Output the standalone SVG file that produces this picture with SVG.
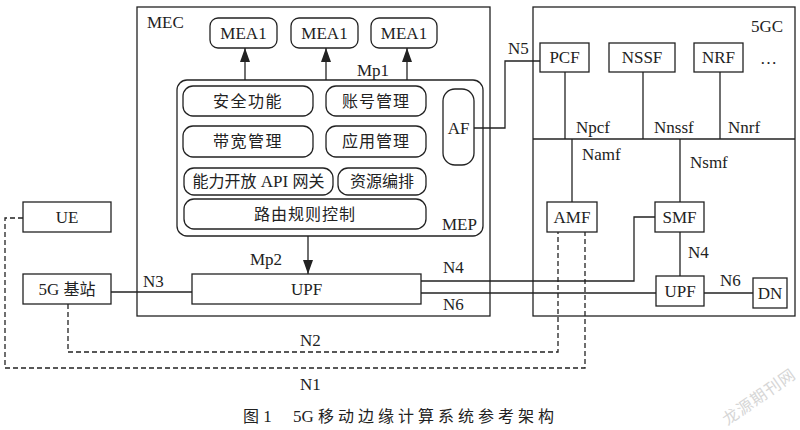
<svg xmlns="http://www.w3.org/2000/svg" width="800" height="430" viewBox="0 0 800 430">
<style>
  .box{fill:#fff;stroke:#222;stroke-width:1.3}
  .frame{fill:none;stroke:#222;stroke-width:1.3}
  .ln{fill:none;stroke:#222;stroke-width:1.3}
  .dash{fill:none;stroke:#222;stroke-width:1.3;stroke-dasharray:5 3}
  text{font-family:"Liberation Serif","Noto Sans CJK SC",serif;font-size:17px;fill:#222}
  .c{text-anchor:middle}
  .cjk{font-family:"Noto Sans CJK SC","Liberation Serif",sans-serif;font-size:16px}
</style>
<defs>
  <marker id="arr" markerUnits="userSpaceOnUse" markerWidth="14" markerHeight="10" refX="14" refY="5" orient="auto">
    <path d="M0,0 L14,5 L0,10 z" fill="#222"/>
  </marker>
</defs>
<rect width="800" height="430" fill="#fff"/>

<g id="mec">
  <rect class="frame" x="137" y="7" width="353" height="309"/>
  <text x="147" y="28">MEC</text>
</g>
<g id="gc5">
  <rect class="frame" x="533" y="7" width="262" height="309"/>
  <text x="751" y="32">5GC</text>
</g>

<g id="connectors">
  <line class="ln" x1="245" y1="80" x2="245" y2="48" marker-end="url(#arr)"/>
  <line class="ln" x1="326" y1="80" x2="326" y2="48" marker-end="url(#arr)"/>
  <line class="ln" x1="407" y1="80" x2="407" y2="48" marker-end="url(#arr)"/>
  <text x="357" y="76">Mp1</text>
  <line class="ln" x1="308" y1="236" x2="308" y2="274" marker-end="url(#arr)"/>
  <text x="250" y="265">Mp2</text>
  <line class="ln" x1="111" y1="292" x2="192" y2="292"/>
  <text x="143" y="287">N3</text>
  <polyline class="ln" points="421,281 634,281 634,217 655,217"/>
  <text x="443" y="273">N4</text>
  <line class="ln" x1="421" y1="293" x2="656" y2="293"/>
  <text x="443" y="310">N6</text>
  <polyline class="ln" points="474,128 505,128 505,61 540,61"/>
  <text x="508" y="54">N5</text>
  <line class="ln" x1="565" y1="72" x2="565" y2="139"/>
  <line class="ln" x1="643" y1="72" x2="643" y2="139"/>
  <line class="ln" x1="720" y1="72" x2="720" y2="139"/>
  <line class="ln" x1="533" y1="139" x2="795" y2="139"/>
  <text x="576" y="133">Npcf</text>
  <text x="654" y="133">Nnssf</text>
  <text x="728" y="133">Nnrf</text>
  <line class="ln" x1="572" y1="139" x2="572" y2="202"/>
  <text x="582" y="160">Namf</text>
  <line class="ln" x1="680" y1="139" x2="680" y2="202"/>
  <text x="690" y="168">Nsmf</text>
  <line class="ln" x1="680" y1="232" x2="680" y2="276"/>
  <text x="688" y="258">N4</text>
  <line class="ln" x1="704" y1="293" x2="753" y2="293"/>
  <text x="720" y="286">N6</text>
  <polyline class="dash" points="68,304 68,352 558,352 558,232"/>
  <text x="300" y="346">N2</text>
  <polyline class="dash" points="23,218 5,218 5,368 585,368 585,232"/>
  <text x="300" y="390">N1</text>
</g>

<g id="mea1-a"><rect class="box" x="210" y="18" width="67" height="30" rx="8"/><text class="c" x="243.5" y="39">MEA1</text></g>
<g id="mea1-b"><rect class="box" x="291" y="18" width="67" height="30" rx="8"/><text class="c" x="324.5" y="39">MEA1</text></g>
<g id="mea1-c"><rect class="box" x="371" y="18" width="66" height="30" rx="8"/><text class="c" x="404" y="39">MEA1</text></g>

<g id="mep">
  <rect class="frame" x="177" y="80" width="306" height="156" rx="10"/>
  <text x="442" y="230">MEP</text>
</g>
<g id="sec"><rect class="box" x="183" y="86" width="130" height="30" rx="10"/><text class="c cjk" x="248" y="107" letter-spacing="1.5">安全功能</text></g>
<g id="acct"><rect class="box" x="326" y="86" width="100" height="30" rx="10"/><text class="c cjk" x="376" y="107" letter-spacing="1">账号管理</text></g>
<g id="bw"><rect class="box" x="183" y="126" width="130" height="31" rx="10"/><text class="c cjk" x="248" y="147" letter-spacing="1.5">带宽管理</text></g>
<g id="app"><rect class="box" x="326" y="126" width="100" height="31" rx="10"/><text class="c cjk" x="376" y="147" letter-spacing="1">应用管理</text></g>
<g id="af"><rect class="box" x="443" y="89" width="31" height="76" rx="12"/><text class="c" x="458.5" y="134">AF</text></g>
<g id="api"><rect class="box" x="184" y="168" width="149" height="27" rx="10"/><text class="c" x="258.5" y="187"><tspan class="cjk">能力开放</tspan> API <tspan class="cjk">网关</tspan></text></g>
<g id="res"><rect class="box" x="338" y="168" width="88" height="27" rx="10"/><text class="c cjk" x="382" y="187">资源编排</text></g>
<g id="route"><rect class="box" x="184" y="199" width="242" height="30" rx="10"/><text class="c cjk" x="305" y="220" letter-spacing="1">路由规则控制</text></g>

<g id="upf-mec"><rect class="box" x="192" y="274" width="229" height="30"/><text class="c" x="306.5" y="295">UPF</text></g>

<g id="pcf"><rect class="box" x="540" y="43" width="49" height="29"/><text class="c" x="564.5" y="63">PCF</text></g>
<g id="nssf"><rect class="box" x="609" y="43" width="66" height="29"/><text class="c" x="642" y="63">NSSF</text></g>
<g id="nrf"><rect class="box" x="694" y="43" width="49" height="29"/><text class="c" x="718.5" y="63">NRF</text></g>
<text x="760" y="64">…</text>
<g id="amf"><rect class="box" x="547" y="202" width="50" height="30"/><text class="c" x="572" y="223">AMF</text></g>
<g id="smf"><rect class="box" x="655" y="202" width="49" height="30"/><text class="c" x="679.5" y="223">SMF</text></g>
<g id="upf-5gc"><rect class="box" x="656" y="276" width="48" height="30"/><text class="c" x="680" y="297">UPF</text></g>
<g id="dn"><rect class="box" x="753" y="278" width="34" height="30"/><text class="c" x="770" y="299">DN</text></g>

<g id="ue"><rect class="box" x="23" y="202" width="88" height="30"/><text class="c" x="67" y="223">UE</text></g>
<g id="gnb"><rect class="box" x="23" y="274" width="88" height="30"/><text class="c" x="67" y="295">5G <tspan class="cjk">基站</tspan></text></g>

<text x="243" y="422" font-size="17"><tspan class="cjk" font-size="18">图</tspan> 1<tspan x="293">5G </tspan><tspan class="cjk" font-size="18" letter-spacing="4">移动边缘计算系统参考架构</tspan></text>
<text class="cjk" x="760" y="402" font-size="12" letter-spacing="1" style="fill:#d6d6d6" transform="rotate(-35 760 398)" text-anchor="middle">龙源期刊网</text>
</svg>
